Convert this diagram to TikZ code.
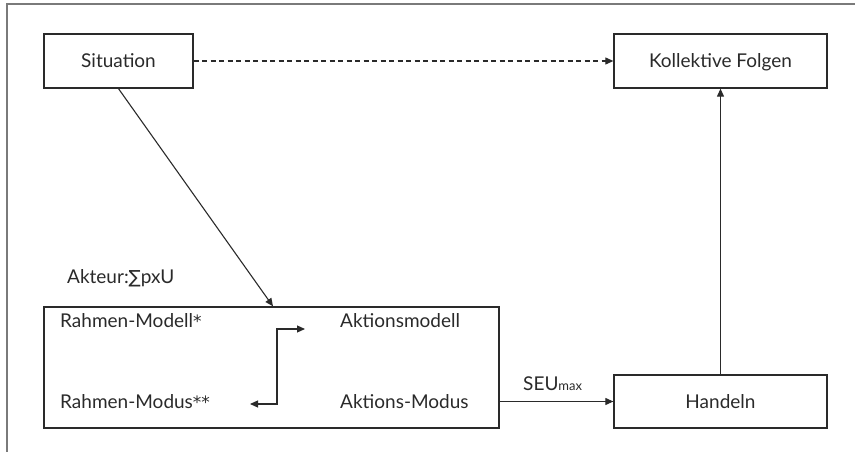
\documentclass[tikz,border=0pt]{standalone}
\usepackage{fontspec}
\setmainfont{Lato}
\newfontfamily\symfont{DejaVu Sans}
\usetikzlibrary{arrows.meta}
\definecolor{ink}{HTML}{2A2A2A}
\definecolor{framegray}{HTML}{7A7A7A}
\newcommand{\footmark}{{\symfont\fontsize{17}{19}\selectfont *}}
\begin{document}
\begin{tikzpicture}[x=1pt,y=-1pt,
  txt/.style={font=\fontsize{19}{21}\selectfont, text=ink},
  box/.style={txt, draw=ink, line width=1.3pt, inner sep=0pt,
              text height=13.5pt, text depth=0pt},
  lbl/.style={txt, inner sep=0pt, anchor=base west},
  conn/.style={draw=ink, line width=1.1pt, -{Triangle[length=8pt,width=7pt]}},
]
\useasboundingbox (0,0) rectangle (855,452);
% frame edges
\draw[framegray, line width=1.5pt] (7,452) -- (7,4) -- (855,4);

% boxes
\node[box, minimum width=149pt, minimum height=54pt] (sit) at (118.5,61) {Situation};
\node[box, minimum width=213pt, minimum height=54pt] (kol) at (720.5,61) {Kollektive Folgen};
\node[box, minimum width=455pt, minimum height=121pt] (akt) at (271.5,367.5) {};
\node[box, minimum width=213pt, minimum height=53pt] (hand) at (720.5,401.5) {Handeln};

% labels
\node[lbl] (akteur) at (67,283) {Akteur:{\symfont\fontsize{18}{20}\selectfont ∑}pxU};
\node[lbl] (rmodell) at (60,327) {Rahmen-Modell\footmark};
\node[lbl] (rmodus) at (60,408) {Rahmen-Modus\footmark\footmark};
\node[lbl] (amodell) at (340,327) {Aktionsmodell};
\node[lbl] (amodus) at (340,408) {Aktions-Modus};
\node[lbl] (seu) at (523,390) {SEU{\fontsize{13}{13}\selectfont max}};

% connectors
\draw[conn, dash pattern=on 5pt off 3.5pt] (sit) -- (kol);
\draw[conn] (sit.south) -- ([xshift=1.5pt]akt.north);
\draw[conn] (hand) -- (kol);
\draw[conn] (akt.east |- hand) -- (hand);
\coordinate (elbowA) at (250,404);
\coordinate (elbowB) at (305,329);
\draw[conn, {Triangle[length=8pt,width=7pt]}-{Triangle[length=8pt,width=7pt]}]
  (elbowA) -- ++(27,0) |- (elbowB);
\end{tikzpicture}
\end{document}
